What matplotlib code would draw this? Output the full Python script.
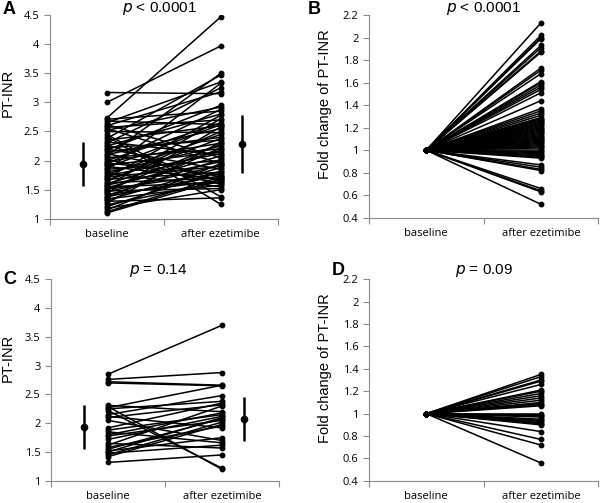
import matplotlib
matplotlib.use('Agg')
import matplotlib.pyplot as plt
import numpy as np

# panel A: PT-INR pairs (baseline, after ezetimibe)
a_base = [3.17, 3.00, 2.73, 2.71, 2.68, 2.65, 2.62, 2.60, 2.57, 2.55, 2.52, 2.50,
          2.45, 2.42, 2.38, 2.35, 2.32, 2.30, 2.27, 2.25, 2.22, 2.20, 2.18, 2.15,
          2.12, 2.10, 2.08, 2.05, 2.02, 2.00, 1.98, 1.96, 1.94, 1.92, 1.90, 1.88,
          1.85, 1.83, 1.80, 1.78, 1.76, 1.74, 1.72, 1.70, 1.68, 1.66, 1.64, 1.62,
          1.60, 1.58, 1.56, 1.55, 1.53, 1.51, 1.50, 1.48, 1.46, 1.44, 1.42, 1.40,
          1.38, 1.36, 1.34, 1.32, 1.30, 1.27, 1.24, 1.21, 1.18, 1.15, 1.12, 1.10]
a_after = [3.15, 3.97, 4.47, 2.85, 2.62, 3.35, 2.05, 3.18, 2.70, 1.95, 2.92, 2.48,
           1.38, 1.25, 3.47, 2.60, 2.10, 3.25, 1.65, 2.80, 2.35, 1.85, 2.95, 2.40,
           1.72, 2.55, 3.50, 2.20, 1.60, 2.65, 2.30, 1.75, 2.88, 2.15, 1.68, 2.62,
           2.00, 3.33, 2.25, 1.55, 2.45, 2.12, 1.90, 2.78, 1.80, 2.38, 2.50, 1.70,
           2.18, 1.98, 2.72, 1.62, 2.08, 1.78, 2.28, 1.52, 1.92, 2.58, 1.66, 2.02,
           1.74, 2.22, 1.58, 1.88, 1.36, 2.32, 1.64, 1.82, 1.50, 1.95, 1.72, 1.68]
a_mean = [1.94, 2.29]
a_sd = [0.38, 0.50]

# panel B: fold change of PT-INR
b_fold = [2.13, 2.02, 2.00, 1.99, 1.93, 1.91, 1.88, 1.87, 1.73, 1.71, 1.68, 1.61,
          1.60, 1.58, 1.56, 1.54, 1.51, 1.44, 1.37, 1.35, 1.33, 1.31, 1.29, 1.28,
          1.27, 1.26, 1.25, 1.24, 1.23, 1.22, 1.21, 1.20, 1.19, 1.18, 1.17, 1.16,
          1.15, 1.14, 1.13, 1.12, 1.11, 1.10, 1.09, 1.08, 1.07, 1.06, 1.05, 1.04,
          1.03, 1.02, 1.00, 0.99, 0.98, 0.97, 0.96, 0.95, 0.94, 0.93, 0.87, 0.85,
          0.83, 0.82, 0.66, 0.64, 0.63, 0.52]

# panel C: PT-INR pairs
c_base = [2.85, 2.76, 2.72, 2.70, 2.31, 2.29, 2.27, 2.25, 2.22, 2.15, 2.12, 2.10,
          2.05, 1.92, 1.88, 1.85, 1.80, 1.78, 1.72, 1.65, 1.62, 1.58, 1.55, 1.52,
          1.50, 1.48, 1.45, 1.42, 1.32]
c_after = [3.70, 2.88, 2.66, 2.65, 2.20, 1.20, 2.66, 2.38, 1.22, 2.48, 1.92, 2.32,
           1.70, 2.35, 2.15, 1.66, 2.18, 2.05, 2.12, 1.57, 2.30, 1.95, 2.08, 1.75,
           2.10, 1.62, 2.02, 1.98, 1.45]
c_mean = [1.94, 2.08]
c_sd = [0.38, 0.38]

# panel D: fold change of PT-INR
d_fold = [1.35, 1.33, 1.30, 1.29, 1.26, 1.21, 1.20, 1.18, 1.16, 1.14, 1.12, 1.10,
          1.09, 1.08, 1.07, 1.00, 0.99, 0.98, 0.97, 0.95, 0.94, 0.93, 0.92, 0.91,
          0.90, 0.84, 0.77, 0.72, 0.56]

cats = ['baseline', 'after ezetimibe']
letters = ['A', 'B', 'C', 'D']
ptexts = ['< 0.0001', '< 0.0001', '= 0.14', '= 0.09']

tickfont = 'Open Sans'
gray = '#8c8c8c'

fig = plt.figure(figsize=(6.0, 5.03), dpi=100)
pos = [[0.083, 0.565, 0.380, 0.405], [0.615, 0.567, 0.382, 0.403],
       [0.085, 0.044, 0.380, 0.401], [0.615, 0.044, 0.382, 0.401]]
axs = [fig.add_axes(p) for p in pos]

def style(ax, ylim, yticks, ylabel, ly):
	ax.set_xlim(0, 2)
	ax.set_ylim(*ylim)
	ax.set_yticks(yticks)
	ax.set_yticklabels(['%g' % round(t, 1) for t in yticks], fontsize=8, family=tickfont)
	ax.set_xticks([0, 1, 2])
	ax.set_xticklabels([])
	ax.set_xticks([0.5, 1.5], minor=True)
	ax.set_xticklabels(cats, minor=True, fontsize=8, family=tickfont)
	ax.tick_params(axis='x', which='minor', length=0, pad=7)
	ax.tick_params(axis='both', which='major', length=4, color=gray, width=0.8)
	for s in ['top', 'right']:
		ax.spines[s].set_visible(False)
	for s in ['left', 'bottom']:
		ax.spines[s].set_color(gray)
		ax.spines[s].set_linewidth(0.8)
	ax.set_ylabel(ylabel, fontsize=10.5, family='Liberation Sans')
	ax.yaxis.set_label_coords(ly[0], ly[1])

def pairs(ax, base, after):
	for b, a in zip(base, after):
		ax.plot([0.5, 1.5], [b, a], '-o', color='black', lw=1.1, ms=3.2, zorder=2)

def meanbars(ax, mean, sd):
	ax.errorbar([0.29, 1.69], mean, yerr=sd, fmt='o', color='black', ms=4.5,
	            elinewidth=1.8, capsize=0, zorder=3)

pairs(axs[0], a_base, a_after)
meanbars(axs[0], a_mean, a_sd)
style(axs[0], (1, 4.5), np.arange(1, 4.51, 0.5), 'PT-INR', (-0.154, 0.62))

pairs(axs[1], [1.0] * len(b_fold), b_fold)
style(axs[1], (0.4, 2.2), np.arange(0.4, 2.21, 0.2), 'Fold change of PT-INR', (-0.162, 0.56))

pairs(axs[2], c_base, c_after)
meanbars(axs[2], c_mean, c_sd)
style(axs[2], (1, 4.5), np.arange(1, 4.51, 0.5), 'PT-INR', (-0.159, 0.61))

pairs(axs[3], [1.0] * len(d_fold), d_fold)
style(axs[3], (0.4, 2.2), np.arange(0.4, 2.21, 0.2), 'Fold change of PT-INR', (-0.162, 0.56))

lpos = [(0.005, 0.998), (0.513, 0.998), (0.005, 0.462), (0.553, 0.48)]
poff = [(0.48, 1.034), (0.5, 1.034), (0.47, 1.045), (0.5, 1.045)]
for ax, l, lp, pt, po in zip(axs, letters, lpos, ptexts, poff):
	fig.text(lp[0], lp[1], l, fontsize=13, fontweight='bold', family='Liberation Sans',
	         ha='left', va='top')
	ax.text(po[0], po[1], r'$\it{p}$ ' + pt, transform=ax.transAxes,
	        ha='center', va='center', fontsize=11, family='Liberation Sans')

fig.savefig('out.png', dpi=100)
